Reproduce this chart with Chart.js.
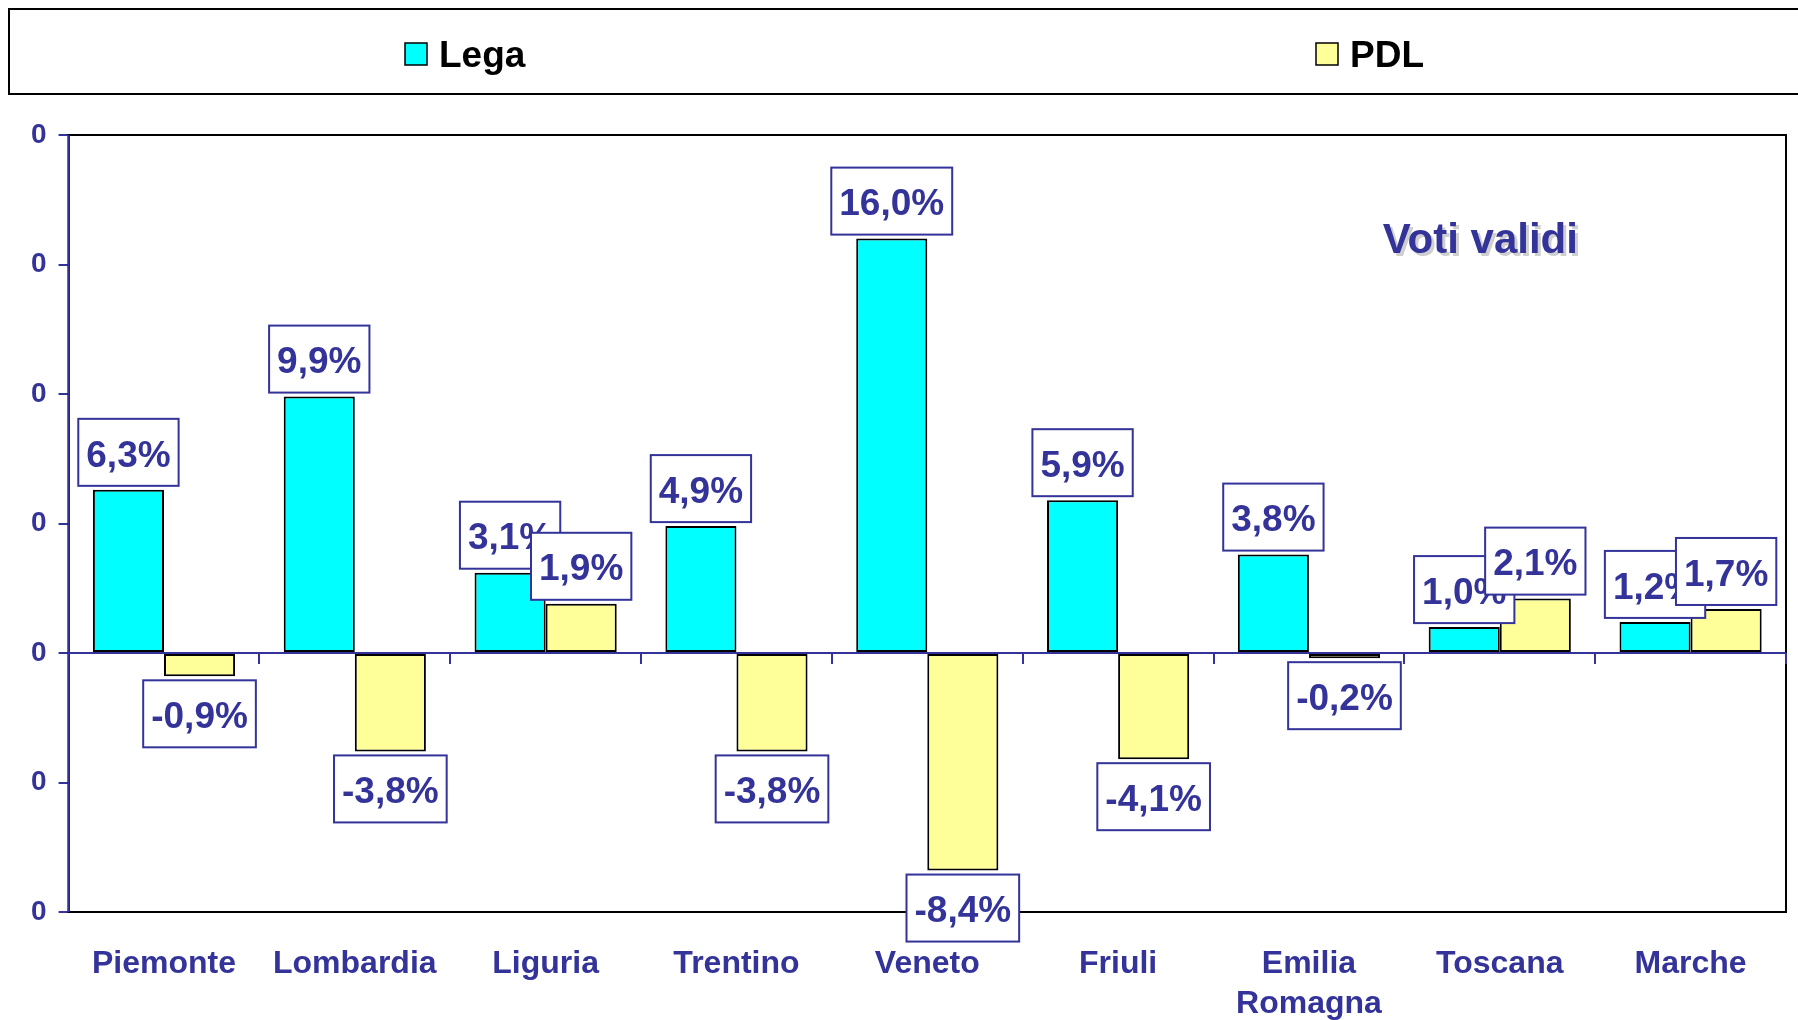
<!DOCTYPE html>
<html>
<head>
<meta charset="utf-8">
<script src="https://cdn.jsdelivr.net/npm/chart.js@4/dist/chart.umd.min.js"></script>
<style>
  html, body { margin: 0; padding: 0; background: #fff; }
  canvas { display: block; }
</style>
</head>
<body>
<canvas id="chart" width="1798" height="1020"></canvas>
<script>
// data
const regions = ["Piemonte", "Lombardia", "Liguria", "Trentino", "Veneto", "Friuli", ["Emilia", "Romagna"], "Toscana", "Marche"];
const seriesNames = ["Lega", "PDL"];
const lega = [6.3, 9.9, 3.1, 4.9, 16.0, 5.9, 3.8, 1.0, 1.2];
const pdl = [-0.9, -3.8, 1.9, -3.8, -8.4, -4.1, -0.2, 2.1, 1.7];
const yTickLabel = "0";
const noteText = "Voti validi";

// styles
const BLUE = "#333399";
const FONT = "'Liberation Sans', Arial, sans-serif";
const barColors = ["#00FFFF", "#FFFF99"];
const legendX = [405, 1316];

const fmt = (v) => v.toFixed(1).replace(".", ",") + "%";

//legend drawn by hand so the two items can sit far apart
const legendBox = {
  id: "legendBox",
  afterDraw(chart) {
    const ctx = chart.ctx;
    ctx.save();
    ctx.strokeStyle = "#000";
    ctx.lineWidth = 2;
    ctx.strokeRect(9, 9, chart.width + 10, 85);
    ctx.font = "bold 37px " + FONT;
    ctx.textBaseline = "middle";
    chart.data.datasets.forEach((ds, i) => {
      const x = legendX[i];
      ctx.fillStyle = ds.backgroundColor;
      ctx.fillRect(x, 43, 22, 22);
      ctx.lineWidth = 1.5;
      ctx.strokeRect(x, 43, 22, 22);
      ctx.fillStyle = "#000";
      ctx.fillText(ds.label, x + 34, 57);
    });
    ctx.restore();
  }
};

//frame, zero line and value boxes
const decorations = {
  id: "decorations",
  beforeDatasetsDraw(chart) {
    const { ctx, chartArea: a } = chart;
    ctx.save();
    ctx.strokeStyle = "#000";
    ctx.lineWidth = 2;
    ctx.strokeRect(a.left, a.top, a.right - a.left, a.bottom - a.top);
    ctx.restore();
  },
  afterDatasetsDraw(chart) {
    const { ctx, chartArea: a, scales } = chart;
    const y0 = scales.y.getPixelForValue(0);
    const step = (a.right - a.left) / regions.length;
    ctx.save();
    ctx.strokeStyle = BLUE;
    ctx.lineWidth = 2;
    ctx.beginPath();
    ctx.moveTo(a.left, y0);
    ctx.lineTo(a.right, y0);
    for (let i = 1; i <= regions.length; i++) {
      const x = Math.round(a.left + step * i);
      ctx.moveTo(x, y0);
      ctx.lineTo(x, y0 + 11);
    }
    ctx.stroke();
    // left axis line in blue over the black frame
    ctx.beginPath();
    ctx.moveTo(a.left, a.top);
    ctx.lineTo(a.left, a.bottom);
    ctx.stroke();

    // note text with a soft shadow
    ctx.font = "bold 42px " + FONT;
    ctx.textAlign = "center";
    ctx.textBaseline = "middle";
    const nx = a.left + (a.right - a.left) * 0.822;
    const ny = a.top + 106;
    ctx.fillStyle = "#cfcfcf";
    ctx.fillText(noteText, nx + 3, ny + 3);
    ctx.fillStyle = BLUE;
    ctx.fillText(noteText, nx, ny);

    // value labels
    ctx.font = "bold 37px " + FONT;
    chart.data.datasets.forEach((ds, di) => {
      const meta = chart.getDatasetMeta(di);
      meta.data.forEach((bar, i) => {
        const v = ds.data[i];
        const txt = fmt(v);
        const w = ctx.measureText(txt).width + 16;
        const h = 67;
        const bx = bar.x - w / 2;
        const by = v >= 0 ? bar.y - 4 - h : bar.y + 4;
        ctx.fillStyle = "#fff";
        ctx.fillRect(bx, by, w, h);
        ctx.strokeStyle = BLUE;
        ctx.lineWidth = 2;
        ctx.strokeRect(bx, by, w, h);
        ctx.fillStyle = BLUE;
        ctx.fillText(txt, bar.x, by + h / 2 + 4);
      });
    });
    ctx.restore();
  }
};

new Chart(document.getElementById("chart"), {
  type: "bar",
  plugins: [legendBox, decorations],
  data: {
    labels: regions,
    datasets: [
      { label: seriesNames[0], data: lega, backgroundColor: barColors[0] },
      { label: seriesNames[1], data: pdl, backgroundColor: barColors[1] }
    ]
  },
  options: {
    responsive: false,
    animation: false,
    layout: { padding: { top: 135, left: 19, right: 12, bottom: 0 } },
    datasets: {
      bar: {
        borderColor: "#000",
        borderWidth: 2,
        borderSkipped: false,
        categoryPercentage: 0.745,
        barPercentage: 1.0
      }
    },
    plugins: {
      legend: { display: false },
      tooltip: { enabled: false }
    },
    scales: {
      x: {
        grid: { display: false, drawTicks: false },
        border: { display: false },
        ticks: {
          color: BLUE,
          font: { family: FONT, size: 32, weight: "bold", lineHeight: 1.25 },
          padding: 32,
          maxRotation: 0,
          autoSkip: false
        },
        afterFit: (scale) => { scale.height = 108; }
      },
      y: {
        min: -10,
        max: 20,
        grid: { drawOnChartArea: false, color: BLUE, lineWidth: 2, tickLength: 10 },
        border: { color: BLUE, width: 2 },
        ticks: {
          stepSize: 5,
          color: BLUE,
          padding: 12,
          font: { family: FONT, size: 28, weight: "bold" },
          callback: () => yTickLabel
        }
      }
    }
  }
});
</script>
</body>
</html>
